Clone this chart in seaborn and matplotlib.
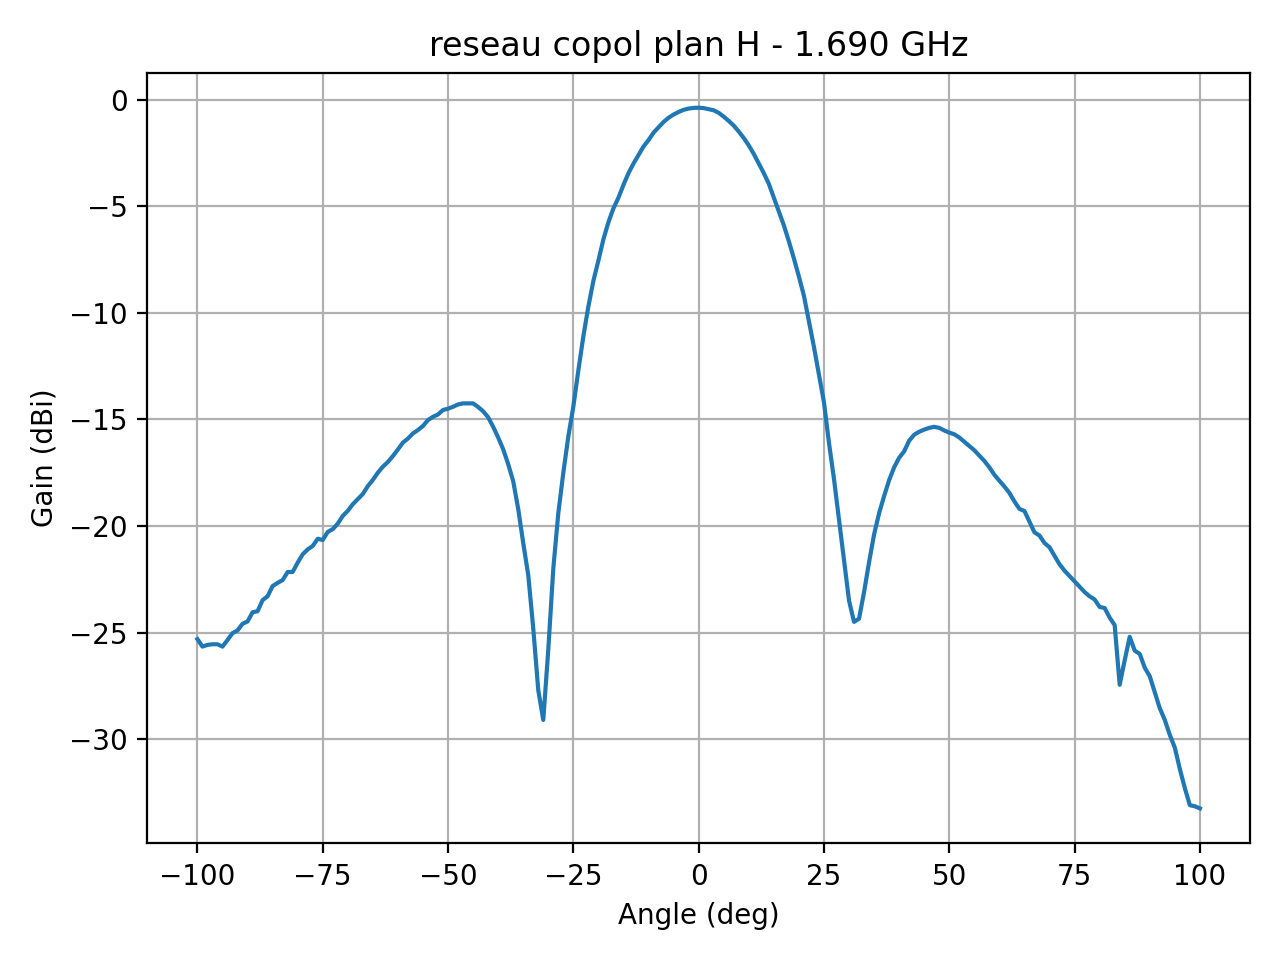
import numpy as np
import pandas as pd
import seaborn as sns
import matplotlib
matplotlib.use("Agg")
import matplotlib.pyplot as plt

# Diagramme mesure : angle de -100 a +100 deg, pas de 1 deg
angles = list(range(-100, 101))

gain_gauche = [
    -25.31, -25.66, -25.58, -25.55, -25.55, -25.66, -25.35, -25.03, -24.90, -24.59,
    -24.48, -24.05, -24.00, -23.48, -23.30, -22.82, -22.67, -22.54, -22.16, -22.16,
    -21.72, -21.33, -21.10, -20.94, -20.60, -20.66, -20.28, -20.15, -19.89, -19.53,
    -19.29, -18.98, -18.74, -18.50, -18.13, -17.84, -17.50, -17.22, -17.00, -16.72,
    -16.41, -16.09, -15.90, -15.66, -15.50, -15.31, -15.03, -14.88, -14.77, -14.56,
    -14.50, -14.41, -14.30, -14.25, -14.25, -14.25, -14.42, -14.62, -14.90, -15.35,
    -15.85, -16.40, -17.10, -17.90, -19.20, -20.80, -22.30, -24.80, -27.70, -29.10,
    -25.80, -22.00, -19.40, -17.50, -15.80,
]

# lobe principal, de -25 a +25 deg
gain_centre = [
    -14.40, -12.70, -11.10, -9.70, -8.50, -7.55, -6.55, -5.75, -5.10, -4.60,
    -4.00, -3.45, -3.00, -2.60, -2.20, -1.90, -1.55, -1.30, -1.05, -0.85,
    -0.70, -0.58, -0.48, -0.42, -0.39, -0.38, -0.40, -0.45, -0.50, -0.62,
    -0.80, -1.00, -1.22, -1.50, -1.80, -2.15, -2.55, -3.00, -3.45, -3.95,
    -4.60, -5.25, -5.90, -6.65, -7.45, -8.30, -9.20, -10.40, -11.60, -12.90,
    -14.20,
]

# de +26 a +100 deg
gain_droite = [
    -16.10, -17.80, -19.70, -21.60, -23.50, -24.50, -24.35, -23.10, -21.70, -20.40,
    -19.40, -18.60, -17.85, -17.25, -16.80, -16.50, -16.00, -15.72, -15.58, -15.48,
    -15.40, -15.35, -15.40, -15.52, -15.62, -15.70, -15.85, -16.05, -16.25, -16.45,
    -16.70, -16.95, -17.25, -17.60, -17.88, -18.15, -18.45, -18.85, -19.20, -19.30,
    -19.80, -20.30, -20.45, -20.80, -21.00, -21.40, -21.80, -22.10, -22.35, -22.60,
    -22.85, -23.10, -23.30, -23.45, -23.80, -23.85, -24.30, -24.65, -27.45, -26.30,
    -25.20, -25.85, -26.00, -26.65, -27.05, -27.80, -28.55, -29.10, -29.80, -30.40,
    -31.40, -32.30, -33.10, -33.15, -33.25,
]

gain = gain_gauche + gain_centre + gain_droite
df = pd.DataFrame({'Angle': angles, 'Gain': gain})

fig, ax = plt.subplots(figsize=(6.4, 4.8), dpi=200)
sns.lineplot(data=df, x='Angle', y='Gain', ax=ax, color='#1f77b4', linewidth=1.5)
ax.grid(True)
ax.set_title('reseau copol plan H - 1.690 GHz')
ax.set_xlabel('Angle (deg)')
ax.set_ylabel('Gain (dBi)')
fig.tight_layout()
fig.savefig('out.png', dpi=200)
